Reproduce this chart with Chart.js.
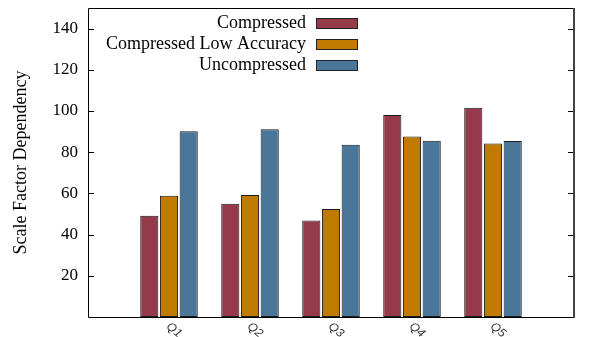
<!DOCTYPE html>
<html>
<head>
<meta charset="utf-8">
<script src="https://cdn.jsdelivr.net/npm/chart.js@4.4.0/dist/chart.umd.min.js"></script>
<style>
html, body { margin: 0; padding: 0; background: #fff; }
</style>
</head>
<body>
<canvas id="chart" width="589" height="337"></canvas>
<script>
const categories = ['Q1', 'Q2', 'Q3', 'Q4', 'Q5'];
const compressed = [49.2, 55.0, 46.8, 98.0, 101.6];
const compressedLow = [58.8, 59.2, 52.4, 87.6, 84.2];
const uncompressed = [90.2, 91.2, 83.6, 85.5, 85.4];
const yTicks = [20, 40, 60, 80, 100, 120, 140];
const seriesNames = ['Compressed', 'Compressed Low Accuracy', 'Uncompressed'];
const seriesColors = ['#953a4a', '#c07a00', '#4a7699'];

// gnuplot-style empty slot on each side of the groups
const pad = arr => [null, ...arr, null];
const labels = ['', ...categories, ''];

const framePlugin = {
    id: 'frame',
    afterDraw(chart) {
        const { ctx, chartArea: a, scales: { x, y } } = chart;
        ctx.save();

        // inward tick marks on both sides
        ctx.strokeStyle = '#000';
        ctx.lineWidth = 1;
        yTicks.forEach(v => {
            const py = Math.round(y.getPixelForValue(v)) + 0.5;
            ctx.beginPath();
            ctx.moveTo(a.left, py);
            ctx.lineTo(a.left + 6, py);
            ctx.moveTo(a.right, py);
            ctx.lineTo(a.right - 6, py);
            ctx.stroke();
        });

        // border
        ctx.beginPath();
        ctx.moveTo(a.right, a.top + 0.5);
        ctx.lineTo(a.left + 0.5, a.top + 0.5);
        ctx.lineTo(a.left + 0.5, a.bottom + 0.5);
        ctx.lineTo(a.right, a.bottom + 0.5);
        ctx.stroke();
        ctx.strokeStyle = '#444';
        ctx.lineWidth = 2;
        ctx.beginPath();
        ctx.moveTo(a.right, a.top);
        ctx.lineTo(a.right, a.bottom + 1);
        ctx.stroke();

        // rotated category labels
        ctx.font = 'italic 12px "Liberation Sans"';
        ctx.fillStyle = '#333';
        ctx.textAlign = 'left';
        ctx.textBaseline = 'middle';
        categories.forEach((c, i) => {
            const px = x.getPixelForValue(i + 1);
            ctx.save();
            ctx.translate(px - 1, a.bottom + 8);
            ctx.rotate(40 * Math.PI / 180);
            ctx.fillText(c, 0, 0);
            ctx.restore();
        });

        // key
        ctx.font = '18px "Liberation Serif"';
        ctx.textAlign = 'right';
        ctx.lineWidth = 1;
        ctx.strokeStyle = '#222';
        chart.data.datasets.forEach((ds, i) => {
            const cy = a.top + 15 + i * 21;
            ctx.fillStyle = '#000';
            ctx.fillText(ds.label, 306, cy);
            ctx.fillStyle = ds.backgroundColor;
            ctx.fillRect(316, cy - 5, 42, 11);
            ctx.strokeRect(316.5, cy - 4.5, 41, 10);
        });
        ctx.restore();
    }
};

new Chart(document.getElementById('chart'), {
    type: 'bar',
    data: {
        labels: labels,
        datasets: [compressed, compressedLow, uncompressed].map((vals, i) => ({
            label: seriesNames[i],
            data: pad(vals),
            backgroundColor: seriesColors[i],
            borderColor: '#1a1a1a',
            borderWidth: 1,
            borderSkipped: false,
            categoryPercentage: 0.73,
            barPercentage: 0.92
        }))
    },
    options: {
        responsive: false,
        animation: false,
        devicePixelRatio: 1,
        layout: { padding: { top: 8, right: 15, left: 0, bottom: 0 } },
        plugins: {
            legend: { display: false },
            tooltip: { enabled: false }
        },
        scales: {
            x: {
                offset: false,
                grid: { display: false },
                border: { display: false },
                ticks: { display: false },
                afterFit: s => { s.height = 20; s.paddingLeft = 0; s.paddingRight = 0; }
            },
            y: {
                min: 0,
                max: 150,
                grid: { display: false, drawTicks: false },
                border: { display: false },
                afterBuildTicks: s => { s.ticks = yTicks.map(v => ({ value: v })); },
                afterFit: s => { s.width = 88; s.paddingTop = 0; s.paddingBottom = 0; },
                ticks: {
                    padding: 10,
                    color: '#000',
                    font: { family: '"Liberation Serif"', size: 17 }
                },
                title: {
                    display: true,
                    text: 'Scale Factor Dependency',
                    color: '#000',
                    padding: { top: 10, bottom: 0 },
                    font: { family: '"Liberation Serif"', size: 18 }
                }
            }
        }
    },
    plugins: [framePlugin]
});
</script>
</body>
</html>
